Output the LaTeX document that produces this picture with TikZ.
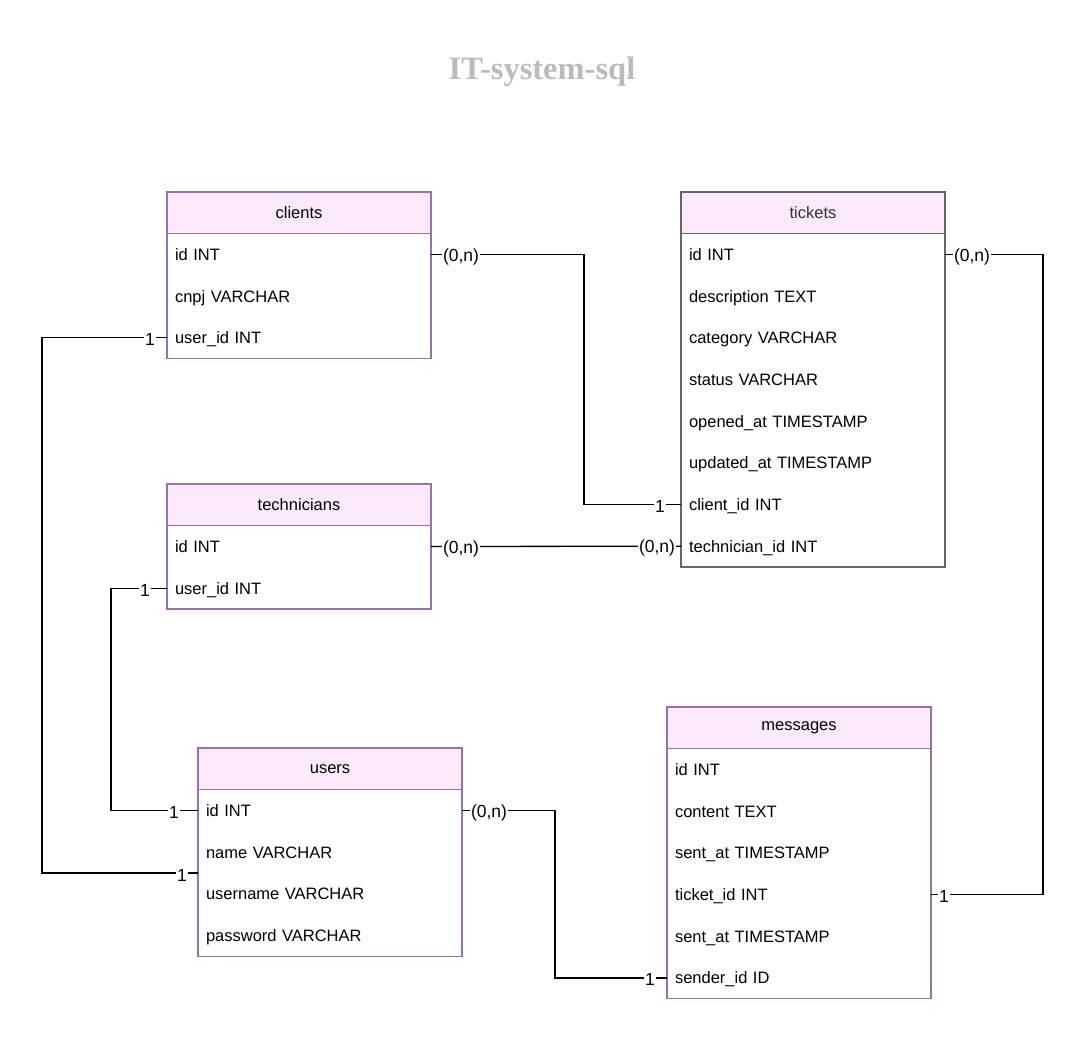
\documentclass[tikz,border=0pt]{standalone}
\usepackage{fontspec}
\setmainfont{Liberation Sans}
\newfontfamily\titlefont{Liberation Serif}
\usetikzlibrary{positioning}
\definecolor{cabecera}{RGB}{252,234,252}
\definecolor{borde}{RGB}{150,115,166}
\definecolor{bordegris}{RGB}{102,102,102}
\definecolor{textogris}{RGB}{51,51,51}
\definecolor{titulo}{RGB}{187,187,187}
\tikzset{
  cab/.style={draw=borde, fill=cabecera, line width=1.2pt, minimum width=264pt,
    minimum height=41.67pt, inner sep=0pt, outer sep=0pt, anchor=north west,
    font=\fontsize{16.5}{19}\selectfont},
  fila/.style={anchor=north west, text width=248pt, inner xsep=8pt, inner ysep=0pt,
    outer sep=0pt, minimum height=41.67pt, align=left, text height=12pt,
    text depth=0pt, font=\fontsize{16.5}{19}\selectfont},
  marco/.style={draw=borde, line width=1.2pt},
  rel/.style={draw=black, line width=1.3pt},
  card/.style={fill=white, inner sep=1pt, yshift=-2pt, font=\fontsize{17.5}{20}\selectfont}
}
\begin{document}
\begin{tikzpicture}[x=1pt, y=-1pt]
    \useasboundingbox (0,0) rectangle (1086,1038);
    % Titulo
    \node[anchor=base, text=titulo, font=\titlefont\bfseries\fontsize{32.5}{36}\selectfont]
        (titulo) at (542,80) {IT-system-sql};

    % Tabla clients
    \node[cab] (clients) at (167,192) {clients};
    \foreach \campo [count=\i] in {id INT, cnpj VARCHAR, user\_id INT}
        \node[fila] (clients-\i) at ([yshift={-(\i-1)*41.67pt}]clients.south west) {\campo};
    \draw[marco] (clients.north west) rectangle (clients-3.south east);

    % Tabla tickets
    \node[cab, draw=bordegris, text=textogris] (tickets) at (681,192) {tickets};
    \foreach \campo [count=\i] in {id INT, description TEXT, category VARCHAR, status VARCHAR,
        opened\_at TIMESTAMP, updated\_at TIMESTAMP, client\_id INT, technician\_id INT}
        \node[fila] (tickets-\i) at ([yshift={-(\i-1)*41.67pt}]tickets.south west) {\campo};
    \draw[marco, draw=bordegris] (tickets.north west) rectangle (tickets-8.south east);

    % Tabla technicians
    \node[cab] (technicians) at (167,484) {technicians};
    \foreach \campo [count=\i] in {id INT, user\_id INT}
        \node[fila] (technicians-\i) at ([yshift={-(\i-1)*41.67pt}]technicians.south west) {\campo};
    \draw[marco] (technicians.north west) rectangle (technicians-2.south east);

    % Tabla users
    \node[cab] (users) at (198,748) {users};
    \foreach \campo [count=\i] in {id INT, name VARCHAR, username VARCHAR, password VARCHAR}
        \node[fila] (users-\i) at ([yshift={-(\i-1)*41.67pt}]users.south west) {\campo};
    \draw[marco] (users.north west) rectangle (users-4.south east);

    % Tabla messages
    \node[cab] (messages) at (667,707) {messages};
    \foreach \campo [count=\i] in {id INT, content TEXT, sent\_at TIMESTAMP, ticket\_id INT,
        sent\_at TIMESTAMP, sender\_id ID}
        \node[fila] (messages-\i) at ([yshift={-(\i-1)*41.67pt}]messages.south west) {\campo};
    \draw[marco] (messages.north west) rectangle (messages-6.south east);

    % Relaciones
    \draw[rel] (clients-1.east) -- ++(153,0) |- (tickets-7.west);
    \draw[rel] (tickets-1.east) -- ++(98,0) |- (messages-4.east);
    \draw[rel] (clients-3.west) -- ++(-125,0) |- (users-2.south west);
    \draw[rel] (technicians-2.west) -- ++(-56,0) |- (users-1.west);
    \draw[rel] (technicians-1.east) -- (tickets-8.west);
    \draw[rel] (users-1.east) -- ++(93,0) |- (messages-6.west);

    % Cardinalidades
    \node[card] (c1a) at ([xshift=30pt]clients-1.east) {(0,n)};
    \node[card] (c1b) at ([xshift=-21pt]tickets-7.west) {1};
    \node[card] (c2a) at ([xshift=27pt]tickets-1.east) {(0,n)};
    \node[card] (c2b) at ([xshift=13pt]messages-4.east) {1};
    \node[card] (c3a) at ([xshift=-17pt]clients-3.west) {1};
    \node[card] (c3b) at ([xshift=-16pt]users-2.south west) {1};
    \node[card] (c4a) at ([xshift=-22pt]technicians-2.west) {1};
    \node[card] (c4b) at ([xshift=-24pt]users-1.west) {1};
    \node[card] (c5a) at ([xshift=30pt]technicians-1.east) {(0,n)};
    \node[card] (c5b) at ([xshift=-24pt]tickets-8.west) {(0,n)};
    \node[card] (c6a) at ([xshift=27pt]users-1.east) {(0,n)};
    \node[card] (c6b) at ([xshift=-17pt]messages-6.west) {1};
\end{tikzpicture}
\end{document}
